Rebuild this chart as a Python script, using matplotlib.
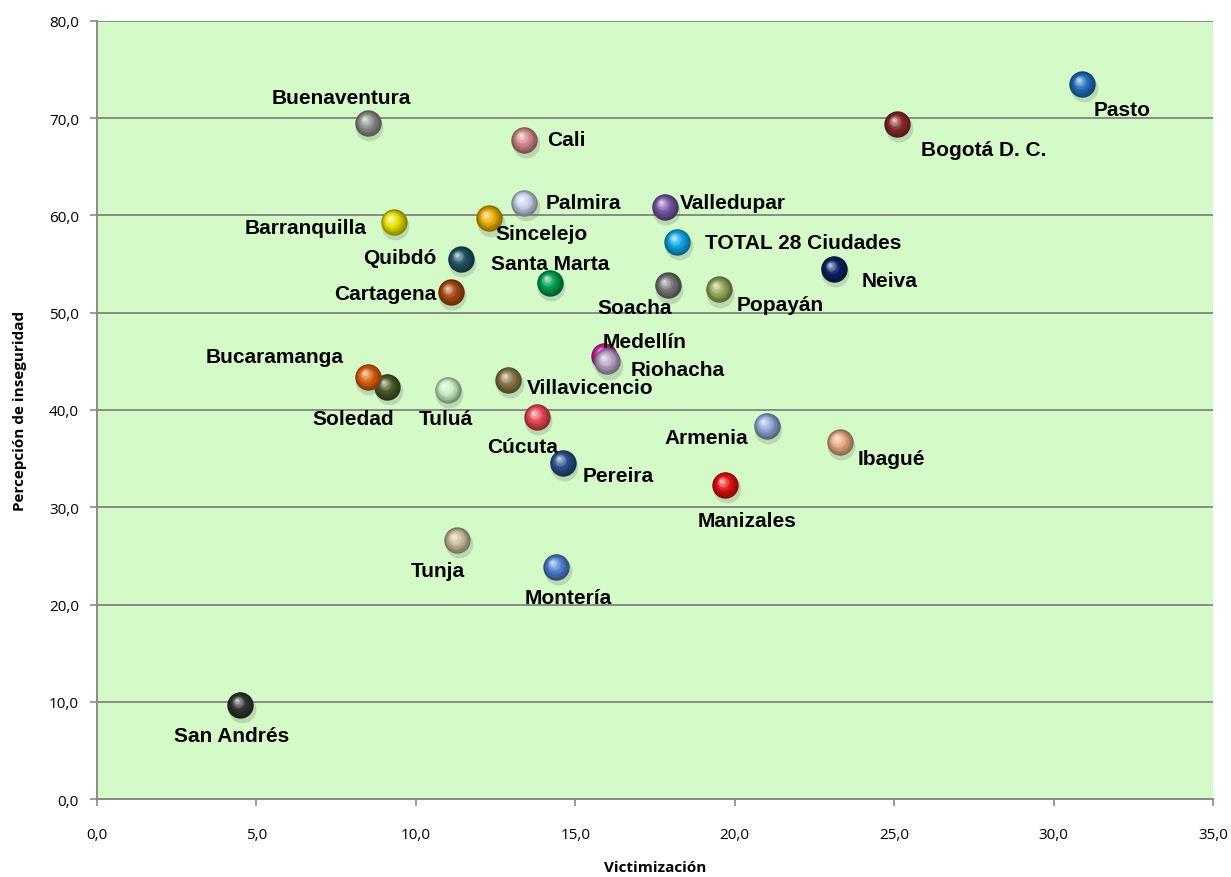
import numpy as np
import matplotlib
matplotlib.use("Agg")
import matplotlib.pyplot as plt
from matplotlib.colors import to_rgb
from matplotlib.transforms import offset_copy
from matplotlib.ticker import FuncFormatter, MultipleLocator

# data
ciudades = ["Pasto", "Bogotá D. C.", "Buenaventura", "Cali", "Palmira", "Valledupar",
            "Sincelejo", "Barranquilla", "TOTAL 28 Ciudades", "Quibdó", "Santa Marta",
            "Neiva", "Soacha", "Popayán", "Cartagena", "Medellín", "Riohacha",
            "Soledad", "Bucaramanga", "Tuluá", "Villavicencio", "Cúcuta", "Armenia",
            "Ibagué", "Pereira", "Manizales", "Tunja", "Montería", "San Andrés"]
victimizacion = [30.9, 25.1, 8.5, 13.4, 13.4, 17.8, 12.3, 9.3, 18.2, 11.4, 14.2,
                 23.1, 17.9, 19.5, 11.1, 15.9, 16.0, 9.1, 8.5, 11.0, 12.9, 13.8, 21.0,
                 23.3, 14.6, 19.7, 11.3, 14.4, 4.5]
percepcion = [73.5, 69.4, 69.5, 67.8, 61.3, 60.9, 59.7, 59.3, 57.3, 55.5, 53.1,
              54.5, 52.8, 52.4, 52.1, 45.6, 45.0, 42.4, 43.4, 42.1, 43.1, 39.3, 38.4,
              36.7, 34.6, 32.3, 26.6, 23.9, 9.7]
colores = ["#1f6fc0", "#8b2a2a", "#8e8e8e", "#d48a8a", "#c8d2ea", "#7a58a8",
           "#e8ae00", "#e8e000", "#10a8e8", "#1f5568", "#00a050",
           "#0a2262", "#767676", "#98a858", "#a84a10", "#d020a0", "#b8a2c8",
           "#4a5a28", "#e06010", "#c8f0c0", "#8a7848", "#e84a55", "#90aad8",
           "#e8aa82", "#2a5090", "#e81010", "#c8bb9a", "#4f82cf", "#333333"]
# label offsets in pixels (dx, dy) from the point
etiqueta_off = {
    "Pasto": (40, -25), "Bogotá D. C.": (86, -25), "Buenaventura": (-27, 26),
    "Cali": (42, 0), "Palmira": (59, 0), "Valledupar": (68, 4),
    "Sincelejo": (52, -15), "Barranquilla": (-88, -5), "TOTAL 28 Ciudades": (126, -1),
    "Quibdó": (-61, 2), "Santa Marta": (0, 19), "Neiva": (56, -12),
    "Soacha": (-33, -22), "Popayán": (61, -15), "Cartagena": (-66, -1),
    "Medellín": (41, 14), "Riohacha": (71, -8), "Soledad": (-34, -32),
    "Bucaramanga": (-93, 20), "Tuluá": (-2, -29), "Villavicencio": (82, -8),
    "Cúcuta": (-14, -30), "Armenia": (-60, -12), "Ibagué": (51, -16),
    "Pereira": (56, -13), "Manizales": (22, -36), "Tunja": (-20, -30),
    "Montería": (12, -31), "San Andrés": (-9, -31),
}

fig = plt.figure(figsize=(12.31, 8.78), dpi=100)
ax = fig.add_axes([0.0788, 0.0888, 0.9066, 0.8862])
ax.set_facecolor("#d4fac8")

def bola(ax, x, y, c, z):
    base = np.array(to_rgb(c))
    D = 19.0
    sh = offset_copy(ax.transData, fig=fig, x=1.0, y=-3.0, units="points")
    ax.scatter([x], [y], s=(D * 1.05) ** 2, color="#5a6a55", alpha=0.22,
               lw=0, transform=sh, zorder=z)
    n = 10
    for k in range(n):
        t = k / (n - 1)
        d = D * (1 - 0.88 * t)
        tr = offset_copy(ax.transData, fig=fig, x=-D * 0.14 * t, y=D * 0.16 * t,
                         units="points")
        if t < 0.5:
            col = base * (0.6 + 0.8 * t)
        else:
            col = base + (1 - base) * (t - 0.5) * 1.4
        col = np.clip(col, 0, 1)
        ax.scatter([x], [y], s=d ** 2, color=col, lw=0, transform=tr, zorder=z + 0.01 * k)

for i, nom in enumerate(ciudades):
    bola(ax, victimizacion[i], percepcion[i], colores[i], 3 + i * 0.2)
    dx, dy = etiqueta_off[nom]
    ax.annotate(nom, (victimizacion[i], percepcion[i]), xytext=(dx, dy),
                textcoords="offset pixels", ha="center", va="center",
                fontsize=15, fontweight="bold", family="Liberation Sans",
                color="black", zorder=20)

ax.set_xlim(0, 35)
ax.set_ylim(0, 80)
ax.xaxis.set_major_locator(MultipleLocator(5))
ax.yaxis.set_major_locator(MultipleLocator(10))
fmt = FuncFormatter(lambda v, p: f"{v:.1f}".replace(".", ","))
ax.xaxis.set_major_formatter(fmt)
ax.yaxis.set_major_formatter(fmt)
ax.grid(axis="y", color="#8a8a8a", lw=1.4, zorder=1)
ax.set_axisbelow(True)
for s in ["top", "right"]:
    ax.spines[s].set_visible(False)
for s in ["left", "bottom"]:
    ax.spines[s].set_color("#8a8a8a")
    ax.spines[s].set_linewidth(1.4)
ax.tick_params(direction="out", length=5, width=1.2, color="#8a8a8a",
               labelsize=11, pad=8)
ax.tick_params(axis="x", pad=15)
for lb in ax.get_xticklabels() + ax.get_yticklabels():
    lb.set_family("Open Sans")

ax.set_xlabel("Victimización", fontsize=11, fontweight="bold", family="Open Sans", labelpad=13)
ax.set_ylabel("Percepción de inseguridad", fontsize=11, fontweight="bold", family="Open Sans", labelpad=16)

fig.savefig("out.png", dpi=100)
